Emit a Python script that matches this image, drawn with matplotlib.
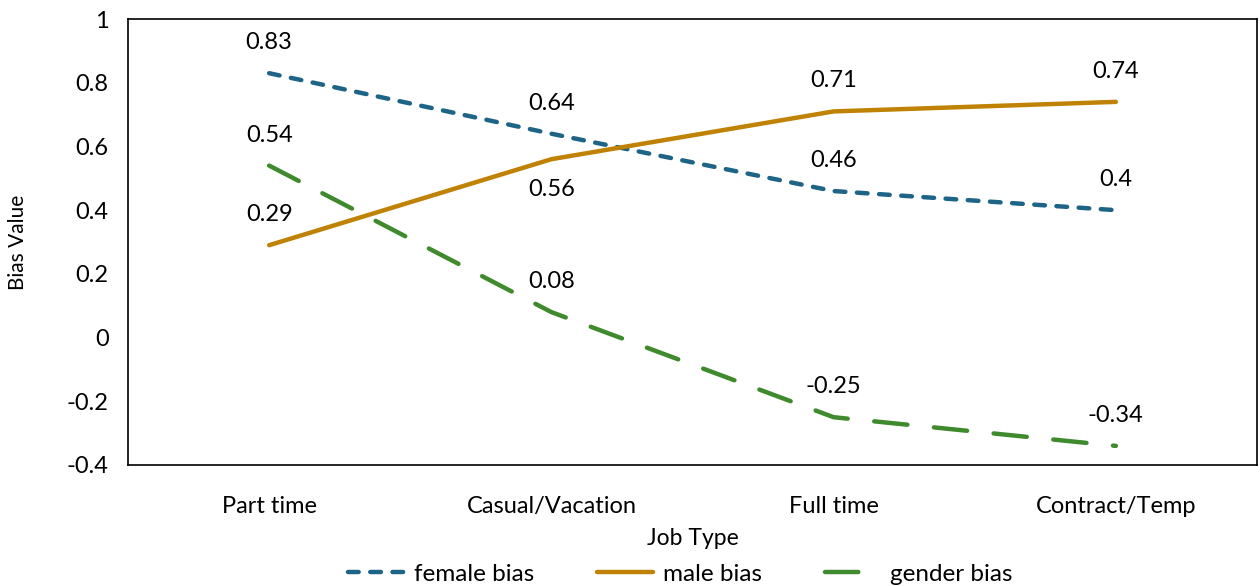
import matplotlib.pyplot as plt
import numpy as np

plt.rcParams['font.family'] = ['Lato', 'DejaVu Sans']

job_types = ['Part time', 'Casual/Vacation', 'Full time', 'Contract/Temp']
female_bias = [0.83, 0.64, 0.46, 0.4]
male_bias = [0.29, 0.56, 0.71, 0.74]
gender_bias = [0.54, 0.08, -0.25, -0.34]

# label placement: +1 above the point, -1 below
male_label_side = [1, -1, 1, 1]

blue = '#1d6487'
gold = '#c08204'
green = '#3f8a2c'

fig = plt.figure(figsize=(12.6, 5.86), dpi=100)
ax = fig.add_axes([0.1016, 0.2065, 0.896, 0.761])

x = np.arange(len(job_types))
ax.plot(x, female_bias, color=blue, lw=3.2, dashes=(2.4, 2.6), label='female bias',
        solid_capstyle='round', dash_capstyle='round')
ax.plot(x, male_bias, color=gold, lw=3.2, label='male bias', solid_capstyle='round')
ax.plot(x, gender_bias, color=green, lw=3.2, dashes=(7.5, 6), label='gender bias',
        dash_capstyle='round')

fs = 17
for xi, v in zip(x, female_bias):
    ax.annotate(f'{v:g}', (xi, v), xytext=(0, 22), textcoords='offset points',
                ha='center', va='center', fontsize=fs)
for xi, v, s in zip(x, male_bias, male_label_side):
    ax.annotate(f'{v:g}', (xi, v), xytext=(0, 22 * s), textcoords='offset points',
                ha='center', va='center', fontsize=fs)
for xi, v in zip(x, gender_bias):
    ax.annotate(f'{v:g}', (xi, v), xytext=(0, 22), textcoords='offset points',
                ha='center', va='center', fontsize=fs)

ax.set_xlim(-0.5, 3.5)
ax.set_ylim(-0.4, 1)
ax.set_yticks(np.arange(-0.4, 1.01, 0.2))
ax.set_yticklabels(['-0.4', '-0.2', '0', '0.2', '0.4', '0.6', '0.8', '1'])
ax.set_xticks(x)
ax.set_xticklabels(job_types)
ax.tick_params(length=0, labelsize=fs, pad=14)
ax.tick_params(axis='x', pad=22)
for sp in ax.spines.values():
    sp.set_linewidth(1.2)

ax.set_xlabel('Job Type', fontsize=16.5, labelpad=8)
ax.set_ylabel('Bias Value', fontsize=15, labelpad=28)

fig.legend(loc='lower center', bbox_to_anchor=(0.54, -0.035), ncol=3, frameon=False,
           fontsize=17.5, handlelength=2.3, columnspacing=2.6, handletextpad=0.4)

fig.savefig('out.png', dpi=100)
